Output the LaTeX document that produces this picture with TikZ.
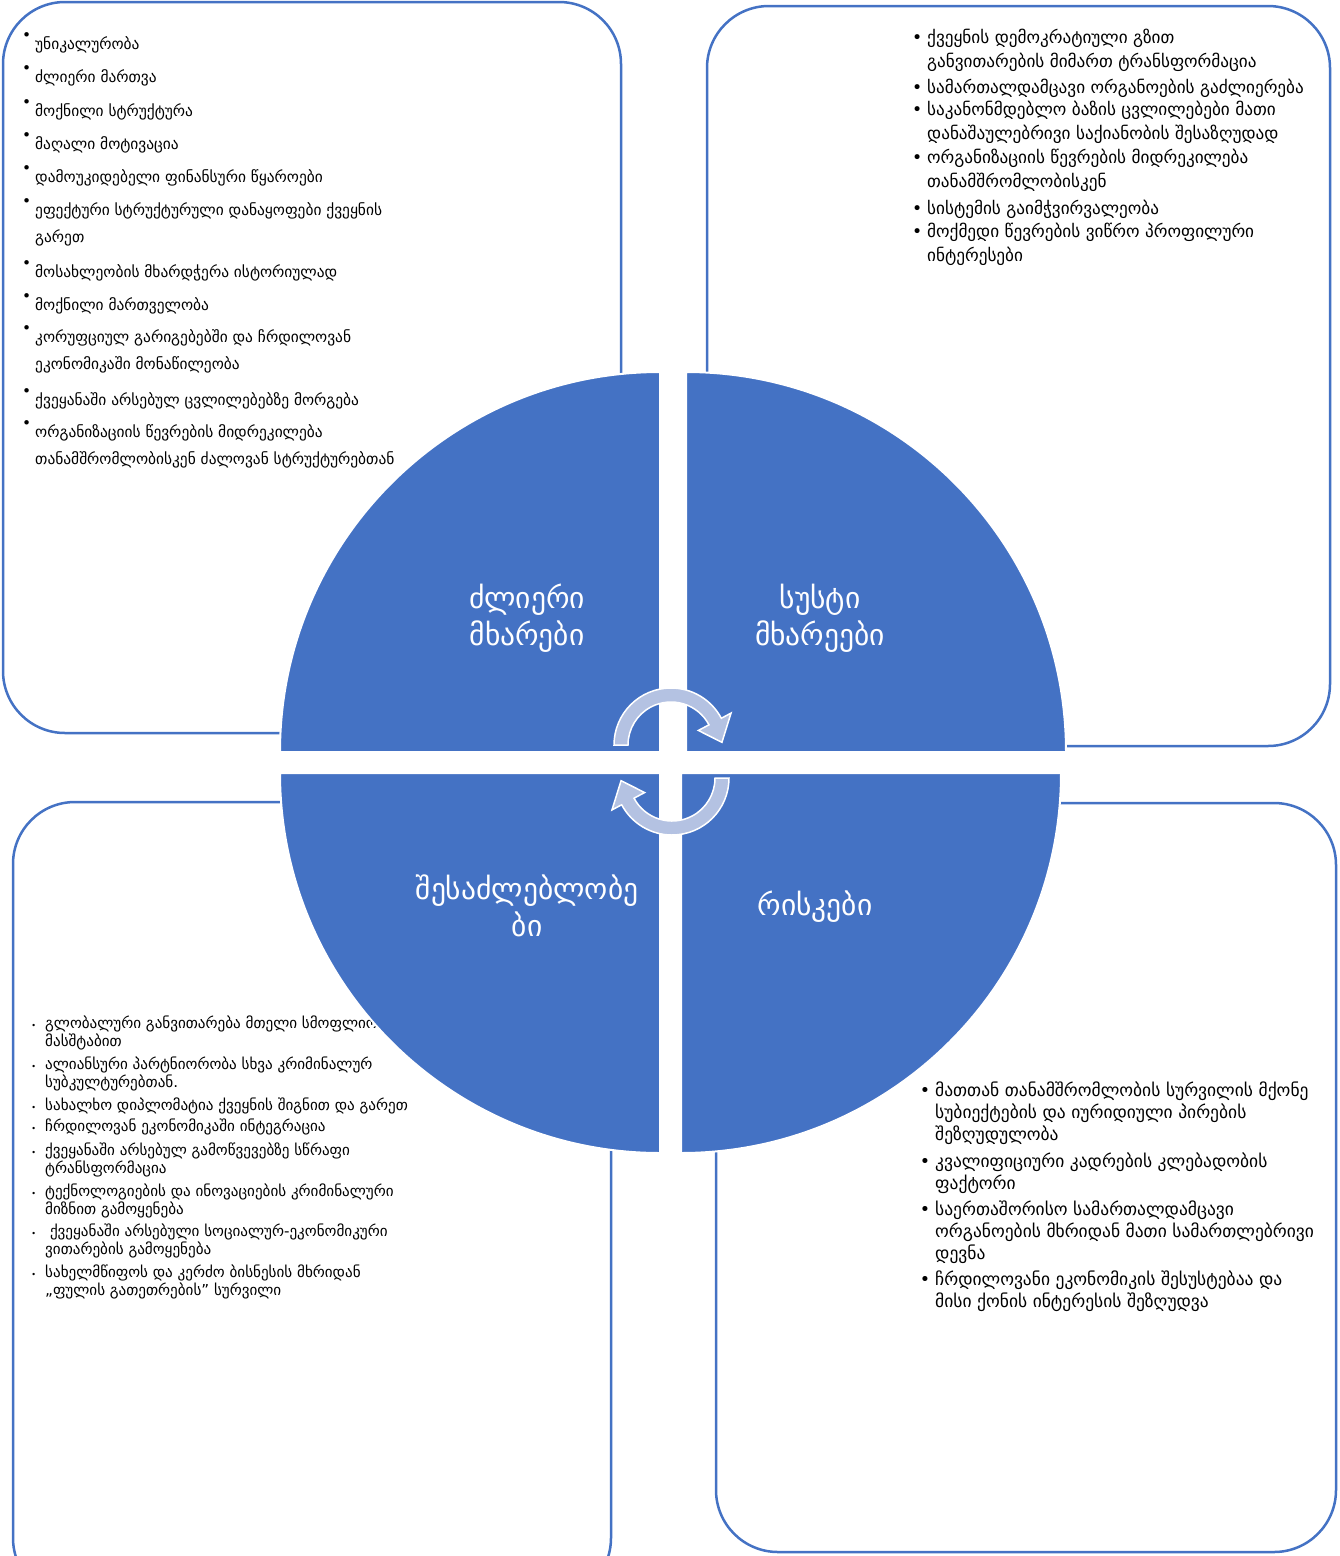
\documentclass[tikz,border=0pt]{standalone}
\usepackage{fontspec}
\setmainfont{DejaVu Sans}
\definecolor{quadblue}{HTML}{4472C4}
\definecolor{cyclefill}{HTML}{B4C2E2}
% bullets of the four lists
\newcommand{\tlbul}{\llap{\raisebox{0.6em}{•}\kern4pt}}
\newcommand{\trbul}{\llap{•\kern5pt}}
\newcommand{\blbul}{\llap{{\fontsize{8}{8}\selectfont•}\kern9pt}}
\begin{document}
\begin{tikzpicture}[x=1pt, y=-1pt,
    panel/.style={draw=quadblue, line width=2.5pt, fill=white, rounded corners=62pt},
    quad/.style={fill=quadblue, draw=white, line width=2pt},
    quadlabel/.style={text=white, align=center, font=\fontsize{29.5}{37}\selectfont},
    item/.style={anchor=north west, inner sep=0pt, align=left, execute at begin node=\strut},
    tlitem/.style={item, yshift=12.1pt, font=\fontsize{15.4}{27.5}\selectfont},
    tritem/.style={item, yshift=9.3pt, font=\fontsize{17.2}{24.2}\selectfont},
    blitem/.style={item, yshift=6.5pt, font=\fontsize{15.1}{18}\selectfont},
    britem/.style={item, yshift=7.7pt, font=\fontsize{17.5}{22}\selectfont},
    cyclearrow/.style={fill=cyclefill, draw=white, line width=1.5pt}]

    \useasboundingbox (0,0) rectangle (1340,1556);

    % four panels behind the circle
    \draw[panel] (3,2) rectangle (621,733);      % strengths
    \draw[panel] (707,6) rectangle (1330,746);   % weaknesses
    \draw[panel] (13,802) rectangle (611,1600);  % opportunities
    \draw[panel] (716,803) rectangle (1336,1552); % threats

    % strengths
    \node[tlitem] (tl1) at (35,42) {\tlbul უნიკალურობა};
    \node[tlitem] (tl2) at (35,75) {\tlbul ძლიერი მართვა};
    \node[tlitem] (tl3) at (35,109) {\tlbul მოქნილი სტრუქტურა};
    \node[tlitem] (tl4) at (35,142) {\tlbul მაღალი მოტივაცია};
    \node[tlitem] (tl5) at (35,175) {\tlbul დამოუკიდებელი ფინანსური წყაროები};
    \node[tlitem] (tl6) at (35,210) {\tlbul ეფექტური სტრუქტურული დანაყოფები ქვეყნის\\გარეთ};
    \node[tlitem] (tl7) at (35,270) {\tlbul მოსახლეობის მხარდჭერა ისტორიულად};
    \node[tlitem] (tl8) at (35,303) {\tlbul მოქნილი მართველობა};
    \node[tlitem] (tl9) at (35,337) {\tlbul კორუფციულ გარიგებებში და ჩრდილოვან\\ეკონომიკაში მონაწილეობა};
    \node[tlitem] (tl10) at (35,398) {\tlbul ქვეყანაში არსებულ ცვლილებებზე მორგება};
    \node[tlitem] (tl11) at (35,432) {\tlbul ორგანიზაციის წევრების მიდრეკილება\\თანამშრომლობისკენ ძალოვან სტრუქტურებთან};

    % weaknesses
    \node[tritem] (tr1) at (927,38) {\trbul ქვეყნის დემოკრატიული გზით\\განვითარების მიმართ ტრანსფორმაცია};
    \node[tritem] (tr2) at (927,86) {\trbul სამართალდამცავი ორგანოების გაძლიერება};
    \node[tritem] (tr3) at (927,110) {\trbul საკანონმდებლო ბაზის ცვლილებები მათი\\დანაშაულებრივი საქიანობის შესაზღუდად};
    \node[tritem] (tr4) at (927,158) {\trbul ორგანიზაციის წევრების მიდრეკილება\\თანამშრომლობისკენ};
    \node[tritem] (tr5) at (927,207) {\trbul სისტემის გაიმჭვირვალეობა};
    \node[tritem] (tr6) at (927,232) {\trbul მოქმედი წევრების ვიწრო პროფილური\\ინტერესები};

    % opportunities
    \node[blitem] (bl1) at (45,1022) {\blbul გლობალური განვითარება მთელი სმოფლიო\\მასშტაბით};
    \node[blitem] (bl2) at (45,1063) {\blbul ალიანსური პარტნიორობა სხვა კრიმინალურ\\სუბკულტურებთან.};
    \node[blitem] (bl3) at (45,1104) {\blbul სახალხო დიპლომატია ქვეყნის შიგნით და გარეთ};
    \node[blitem] (bl4) at (45,1125) {\blbul ჩრდილოვან ეკონომიკაში ინტეგრაცია};
    \node[blitem] (bl5) at (45,1149) {\blbul ქვეყანაში არსებულ გამოწვევებზე სწრაფი\\ტრანსფორმაცია};
    \node[blitem] (bl6) at (45,1190) {\blbul ტექნოლოგიების და ინოვაციების კრიმინალური\\მიზნით გამოყენება};
    \node[blitem] (bl7) at (45,1230) {\blbul\ ქვეყანაში არსებული სოციალურ-ეკონომიკური\\ვითარების გამოყენება};
    \node[blitem] (bl8) at (45,1271) {\blbul სახელმწიფოს და კერძო ბისნესის მხრიდან\\„ფულის გათეთრების" სურვილი};

    % threats
    \node[britem] (br1) at (935,1089) {\trbul მათთან თანამშრომლობის სურვილის მქონე\\სუბიექტების და იურიდიული პირების\\შეზღუდულობა};
    \node[britem] (br2) at (935,1160) {\trbul კვალიფიციური კადრების კლებადობის\\ფაქტორი};
    \node[britem] (br3) at (935,1208) {\trbul საერთაშორისო სამართალდამცავი\\ორგანოების მხრიდან მათი სამართლებრივი\\დევნა};
    \node[britem] (br4) at (935,1278) {\trbul ჩრდილოვანი ეკონომიკის შესუსტებაა და\\მისი ქონის ინტერესის შეზღუდვა};

    % the four quarters of the circle
    \draw[quad] (660,752) -- (280,752) arc[start angle=180, end angle=270, radius=380] -- cycle;
    \draw[quad] (686,752) -- (686,372) arc[start angle=270, end angle=360, radius=380] -- cycle;
    \draw[quad] (681,773) -- (1061,773) arc[start angle=0, end angle=90, radius=380] -- cycle;
    \draw[quad] (660,773) -- (660,1153) arc[start angle=90, end angle=180, radius=380] -- cycle;

    \node[quadlabel] (strong) at (527,618) {ძლიერი\\მხარები};
    \node[quadlabel] (weak) at (820,618) {სუსტი\\მხარეები};
    \node[quadlabel] (opport) at (527,906) {შესაძლებლობე\\ბი};
    \node[quadlabel] (risk) at (815,907) {რისკები};

    % circular arrows in the middle
    \begin{scope}[shift={(671,745)}]
        \draw[cyclearrow] (180:57) arc[start angle=180, end angle=332, radius=57] -- (332:68) -- (357:51) -- (332:31) -- (332:43) arc[start angle=332, end angle=180, radius=43] -- cycle;
    \end{scope}
    \begin{scope}[shift={(672,778)}]
        \draw[cyclearrow] (0:57) arc[start angle=0, end angle=152, radius=57] -- (152:68) -- (177:51) -- (152:31) -- (152:43) arc[start angle=152, end angle=0, radius=43] -- cycle;
    \end{scope}

\end{tikzpicture}
\end{document}
